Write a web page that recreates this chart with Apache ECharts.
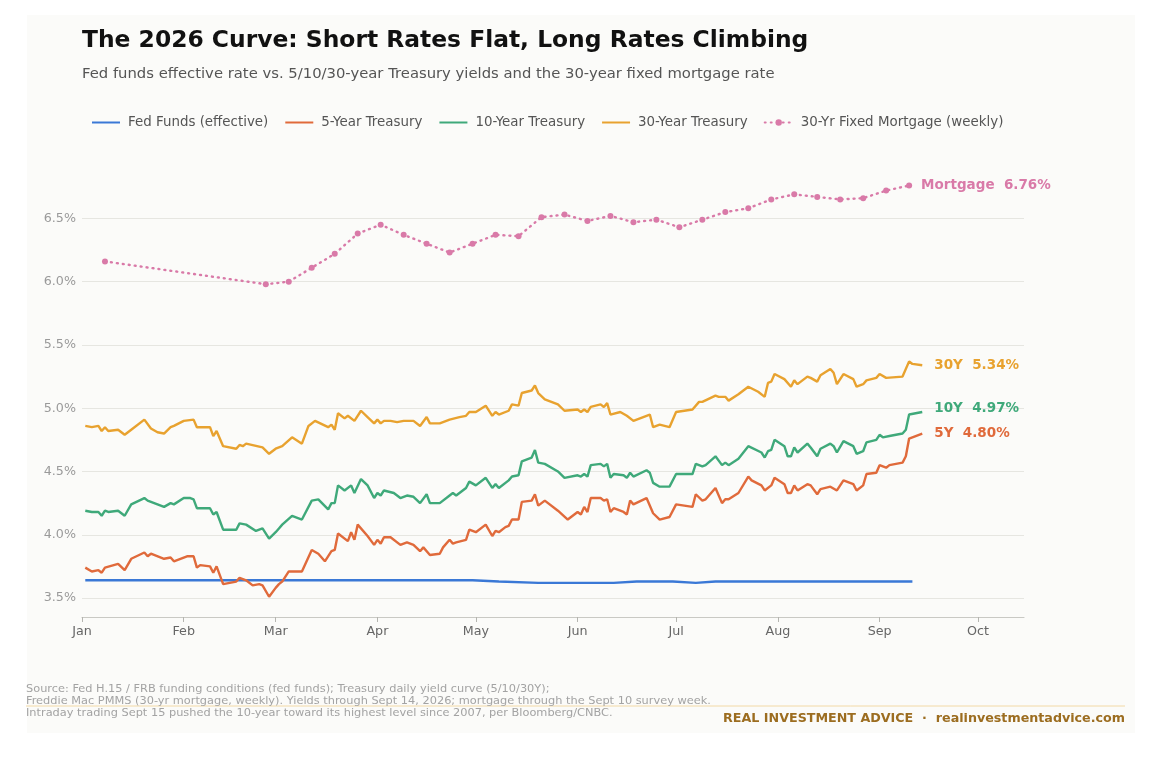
<!DOCTYPE html>
<html lang="en">
<head>
<meta charset="UTF-8">
<title>The 2026 Curve</title>
<script src="https://cdn.jsdelivr.net/npm/echarts@6/dist/echarts.min.js"></script>
<style>
  html, body { margin: 0; padding: 0; background: #ffffff; }
  #card { position: absolute; left: 27px; top: 15px; width: 1108px; height: 718px; background: #fbfbf9; }
  #chart { position: absolute; left: 0; top: 0; width: 1176px; height: 760px; }
</style>
</head>
<body>
<div id="card"></div>
<div id="chart"></div>
<script>
// ---- data (dates are MM-DD in 2026) ----
const YEAR = 2026;

const fedFunds = [
  ['01-02', 3.64], ['04-30', 3.64], ['05-08', 3.63], ['05-20', 3.62], ['06-12', 3.62],
  ['06-19', 3.63], ['06-30', 3.63], ['07-07', 3.62], ['07-13', 3.63], ['09-11', 3.63]
];

const t5 = [
  ['01-02',3.74],['01-04',3.71],['01-06',3.72],['01-07',3.70],['01-08',3.74],['01-12',3.77],['01-14',3.72],['01-16',3.81],['01-20',3.86],['01-21',3.83],['01-22',3.85],['01-26',3.81],['01-28',3.82],['01-29',3.79],
  ['02-02',3.83],['02-04',3.83],['02-05',3.74],['02-06',3.76],['02-09',3.75],['02-10',3.70],['02-11',3.75],['02-13',3.61],['02-17',3.63],['02-18',3.66],['02-20',3.64],['02-22',3.60],['02-24',3.61],['02-25',3.60],['02-27',3.51],
  ['03-01',3.58],['03-02',3.61],['03-03',3.63],['03-05',3.71],['03-09',3.71],['03-12',3.88],['03-14',3.85],['03-16',3.79],['03-18',3.87],['03-19',3.88],['03-20',4.01],['03-23',3.95],['03-24',4.02],['03-25',3.96],['03-26',4.08],['03-29',3.99],['03-31',3.92],
  ['04-01',3.96],['04-02',3.93],['04-03',3.98],['04-05',3.98],['04-08',3.92],['04-10',3.94],['04-12',3.92],['04-14',3.87],['04-15',3.90],['04-17',3.84],['04-20',3.85],['04-21',3.90],['04-23',3.96],['04-24',3.93],['04-25',3.94],['04-28',3.96],['04-29',4.04],
  ['05-01',4.02],['05-04',4.08],['05-06',3.99],['05-07',4.03],['05-08',4.02],['05-10',4.06],['05-11',4.07],['05-12',4.12],['05-14',4.12],['05-15',4.26],['05-18',4.27],['05-19',4.32],['05-20',4.23],['05-22',4.27],['05-26',4.19],['05-29',4.12],
  ['06-01',4.18],['06-02',4.16],['06-03',4.22],['06-04',4.18],['06-05',4.29],['06-08',4.29],['06-09',4.27],['06-10',4.28],['06-11',4.18],['06-12',4.21],['06-15',4.18],['06-16',4.16],['06-17',4.27],['06-18',4.24],['06-22',4.29],['06-24',4.17],['06-26',4.12],['06-29',4.14],
  ['07-01',4.24],['07-06',4.22],['07-07',4.32],['07-09',4.27],['07-10',4.28],['07-13',4.37],['07-15',4.25],['07-16',4.28],['07-17',4.28],['07-20',4.33],['07-23',4.46],['07-24',4.43],['07-27',4.39],['07-28',4.35],['07-30',4.39],['07-31',4.45],
  ['08-03',4.40],['08-04',4.33],['08-05',4.33],['08-06',4.39],['08-07',4.35],['08-10',4.40],['08-11',4.39],['08-13',4.32],['08-14',4.36],['08-17',4.38],['08-19',4.35],['08-21',4.43],['08-24',4.40],['08-25',4.35],['08-27',4.39],['08-28',4.48],['08-31',4.49],
  ['09-01',4.55],['09-03',4.53],['09-04',4.55],['09-08',4.57],['09-09',4.62],['09-10',4.76],['09-12',4.78],['09-14',4.80]
];

const t10 = [
  ['01-02',4.19],['01-04',4.18],['01-06',4.18],['01-07',4.15],['01-08',4.19],['01-09',4.18],['01-12',4.19],['01-14',4.15],['01-16',4.24],['01-20',4.29],['01-21',4.27],['01-23',4.25],['01-26',4.22],['01-28',4.25],['01-29',4.24],
  ['02-01',4.29],['02-03',4.29],['02-04',4.28],['02-05',4.21],['02-09',4.21],['02-10',4.16],['02-11',4.18],['02-13',4.04],['02-17',4.04],['02-18',4.09],['02-20',4.08],['02-23',4.03],['02-25',4.05],['02-27',3.97],
  ['03-01',4.02],['03-02',4.05],['03-03',4.08],['03-06',4.15],['03-09',4.12],['03-12',4.27],['03-14',4.28],['03-17',4.20],['03-18',4.25],['03-19',4.25],['03-20',4.39],['03-22',4.35],['03-24',4.39],['03-25',4.33],['03-27',4.44],['03-29',4.39],['03-31',4.29],
  ['04-01',4.33],['04-02',4.31],['04-03',4.35],['04-06',4.33],['04-08',4.29],['04-10',4.31],['04-12',4.30],['04-14',4.25],['04-16',4.32],['04-17',4.25],['04-20',4.25],['04-23',4.31],['04-24',4.33],['04-25',4.31],['04-28',4.37],['04-29',4.42],
  ['05-01',4.39],['05-04',4.45],['05-06',4.37],['05-07',4.40],['05-08',4.37],['05-11',4.43],['05-12',4.46],['05-14',4.47],['05-15',4.58],['05-18',4.61],['05-19',4.67],['05-20',4.57],['05-22',4.56],['05-26',4.50],['05-28',4.45],
  ['06-01',4.47],['06-02',4.46],['06-03',4.48],['06-04',4.46],['06-05',4.55],['06-08',4.56],['06-09',4.54],['06-10',4.56],['06-11',4.45],['06-12',4.48],['06-15',4.47],['06-16',4.45],['06-17',4.49],['06-18',4.46],['06-22',4.51],['06-23',4.49],['06-24',4.41],['06-26',4.38],['06-29',4.38],
  ['07-01',4.48],['07-06',4.48],['07-07',4.56],['07-09',4.54],['07-10',4.55],['07-13',4.62],['07-15',4.55],['07-16',4.57],['07-17',4.55],['07-20',4.60],['07-23',4.70],['07-27',4.65],['07-28',4.61],['07-29',4.66],['07-30',4.67],['07-31',4.75],
  ['08-03',4.70],['08-04',4.62],['08-05',4.62],['08-06',4.69],['08-07',4.65],['08-10',4.72],['08-11',4.69],['08-13',4.62],['08-14',4.68],['08-17',4.72],['08-18',4.70],['08-19',4.65],['08-21',4.74],['08-24',4.70],['08-25',4.64],['08-27',4.66],['08-28',4.73],['08-31',4.75],
  ['09-01',4.79],['09-02',4.77],['09-04',4.78],['09-08',4.80],['09-09',4.83],['09-10',4.95],['09-12',4.96],['09-14',4.97]
];

const t30 = [
  ['01-02',4.86],['01-04',4.85],['01-06',4.86],['01-07',4.82],['01-08',4.85],['01-09',4.82],['01-12',4.83],['01-14',4.79],['01-16',4.83],['01-20',4.91],['01-22',4.84],['01-24',4.81],['01-26',4.80],['01-28',4.85],['01-29',4.86],
  ['02-01',4.90],['02-04',4.91],['02-05',4.85],['02-09',4.85],['02-10',4.78],['02-11',4.82],['02-13',4.70],['02-17',4.68],['02-18',4.71],['02-19',4.70],['02-20',4.72],['02-25',4.69],['02-27',4.64],
  ['03-01',4.68],['03-03',4.70],['03-06',4.77],['03-09',4.72],['03-11',4.86],['03-13',4.90],['03-17',4.85],['03-18',4.87],['03-19',4.83],['03-20',4.96],['03-22',4.92],['03-23',4.94],['03-25',4.90],['03-27',4.98],['03-29',4.93],['03-31',4.88],
  ['04-01',4.91],['04-02',4.88],['04-03',4.90],['04-05',4.90],['04-07',4.89],['04-09',4.90],['04-12',4.90],['04-14',4.86],['04-16',4.93],['04-17',4.88],['04-20',4.88],['04-23',4.91],['04-26',4.93],['04-28',4.94],['04-29',4.97],
  ['05-01',4.97],['05-04',5.02],['05-06',4.94],['05-07',4.97],['05-08',4.95],['05-11',4.98],['05-12',5.03],['05-14',5.02],['05-15',5.12],['05-18',5.14],['05-19',5.18],['05-20',5.12],['05-22',5.07],['05-26',5.03],['05-28',4.98],
  ['06-01',4.99],['06-02',4.97],['06-03',4.99],['06-04',4.97],['06-05',5.01],['06-08',5.03],['06-09',5.01],['06-10',5.04],['06-11',4.95],['06-14',4.97],['06-16',4.94],['06-18',4.90],['06-21',4.93],['06-23',4.95],['06-24',4.85],['06-26',4.87],['06-29',4.85],
  ['07-01',4.97],['07-06',4.99],['07-08',5.05],['07-09',5.05],['07-13',5.10],['07-14',5.09],['07-16',5.09],['07-17',5.06],['07-20',5.11],['07-23',5.17],['07-26',5.13],['07-28',5.09],['07-29',5.20],['07-30',5.21],['07-31',5.27],
  ['08-03',5.23],['08-05',5.17],['08-06',5.22],['08-07',5.19],['08-10',5.25],['08-11',5.24],['08-13',5.21],['08-14',5.26],['08-17',5.31],['08-18',5.28],['08-19',5.19],['08-21',5.27],['08-24',5.23],['08-25',5.17],['08-27',5.19],['08-28',5.22],['08-31',5.24],
  ['09-01',5.27],['09-03',5.24],['09-08',5.25],['09-10',5.37],['09-11',5.35],['09-14',5.34]
];

const mortgage = [
  ['01-08',6.16],['02-26',5.98],['03-05',6.00],['03-12',6.11],['03-19',6.22],['03-26',6.38],['04-02',6.45],['04-09',6.37],
  ['04-16',6.30],['04-23',6.23],['04-30',6.30],['05-07',6.37],['05-14',6.36],['05-21',6.51],['05-28',6.53],['06-04',6.48],
  ['06-11',6.52],['06-18',6.47],['06-25',6.49],['07-02',6.43],['07-09',6.49],['07-16',6.55],['07-23',6.58],['07-30',6.65],
  ['08-06',6.69],['08-13',6.67],['08-20',6.65],['08-27',6.66],['09-03',6.72],['09-10',6.76]
];

const monthTicks = ['01-01','02-01','03-01','04-01','05-01','06-01','07-01','08-01','09-01','10-01'];
const monthNames = ['Jan','Feb','Mar','Apr','May','Jun','Jul','Aug','Sep','Oct','Nov','Dec'];
const yTicks = [3.5, 4.0, 4.5, 5.0, 5.5, 6.0, 6.5];

const seriesNames = ['Fed Funds (effective)', '5-Year Treasury', '10-Year Treasury', '30-Year Treasury', '30-Yr Fixed Mortgage (weekly)'];
const endTags = [null, '5Y', '10Y', '30Y', 'Mortgage'];
const colors = ['#3a78d6', '#e06a3b', '#3fa97a', '#e8a22f', '#d97aa8'];

// ---- helpers ----
const FONT = '"DejaVu Sans", sans-serif';
const ts = d => echarts.number.parseDate(YEAR + '-' + d).getTime();
const toSeries = arr => arr.map(([d, v]) => [ts(d), v]);

const chart = echarts.init(document.getElementById('chart'));

function lineSeries(i, data) {
  const s = {
    name: seriesNames[i],
    type: 'line',
    data: toSeries(data),
    showSymbol: false,
    symbol: 'none',
    lineStyle: { width: 2.4, color: colors[i] },
    itemStyle: { color: colors[i] },
    animation: false,
    z: 3 + i
  };
  if (endTags[i]) {
    s.endLabel = {
      show: true,
      distance: 12,
      formatter: p => endTags[i] + '  ' + p.value[1].toFixed(2) + '%',
      color: colors[i],
      fontFamily: FONT,
      fontWeight: 'bold',
      fontSize: 13.5
    };
  }
  return s;
}

const mortgageSeries = lineSeries(4, mortgage);
mortgageSeries.showSymbol = true;
mortgageSeries.symbol = 'circle';
mortgageSeries.symbolSize = 6;
mortgageSeries.lineStyle = { width: 2.4, color: colors[4], type: [1, 5], cap: 'round' };

// 10Y tag nudged up a little so it clears the 5Y tag
const t10Series = lineSeries(2, t10);
t10Series.endLabel.offset = [0, -4];

chart.setOption({
  textStyle: { fontFamily: FONT },
  title: [
    {
      text: 'The 2026 Curve: Short Rates Flat, Long Rates Climbing',
      left: 82, top: 29, padding: 0,
      textStyle: { fontFamily: FONT, fontSize: 23.4, fontWeight: 'bold', color: '#111111' }
    },
    {
      text: 'Fed funds effective rate vs. 5/10/30-year Treasury yields and the 30-year fixed mortgage rate',
      left: 82, top: 67, padding: 0,
      textStyle: { fontFamily: FONT, fontSize: 14.8, fontWeight: 'normal', color: '#555555' }
    },
    {
      text: 'Source: Fed H.15 / FRB funding conditions (fed funds); Treasury daily yield curve (5/10/30Y);\n' +
            'Freddie Mac PMMS (30-yr mortgage, weekly). Yields through Sept 14, 2026; mortgage through the Sept 10 survey week.\n' +
            'Intraday trading Sept 15 pushed the 10-year toward its highest level since 2007, per Bloomberg/CNBC.',
      left: 26, top: 683, padding: 0,
      textStyle: { fontFamily: FONT, fontSize: 11.35, fontWeight: 'normal', color: '#a3a3a3', lineHeight: 12 }
    },
    {
      text: 'REAL INVESTMENT ADVICE  ·  realinvestmentadvice.com',
      right: 51, top: 712, padding: 0,
      textStyle: { fontFamily: FONT, fontSize: 12.7, fontWeight: 'bold', color: '#9c6d20' }
    }
  ],
  graphic: [
    { type: 'line', shape: { x1: 26, y1: 706, x2: 1125, y2: 706 }, style: { stroke: '#f2d9a6', lineWidth: 1 }, z: -1 }
  ],
  legend: {
    left: 86, top: 111,
    itemWidth: 28, itemHeight: 8, itemGap: 16,
    textStyle: { fontFamily: FONT, fontSize: 13.4, color: '#555555', padding: [0, 0, 0, 3] },
    data: seriesNames.map((n, i) => i < 4 ? { name: n, itemStyle: { opacity: 0 } } : { name: n })
  },
  grid: { left: 82, right: 152, top: 164, bottom: 143, containLabel: false },
  xAxis: {
    type: 'value',
    min: ts('01-01'),
    max: ts('10-15'),
    axisLine: { show: true, lineStyle: { color: '#c9c9c4', width: 1.2 } },
    axisTick: { show: true, length: 5, customValues: monthTicks.map(ts), lineStyle: { color: '#b5b5b0', width: 1 } },
    axisLabel: {
      customValues: monthTicks.map(ts),
      formatter: v => monthNames[new Date(v).getMonth()],
      color: '#666666', fontFamily: FONT, fontSize: 12.7, margin: 8
    },
    splitLine: { show: false }
  },
  yAxis: {
    type: 'value',
    min: 3.35,
    max: 6.93,
    axisLine: { show: false },
    axisTick: { show: false, customValues: yTicks },
    axisLabel: {
      customValues: yTicks,
      formatter: v => v.toFixed(1) + '%',
      color: '#9a9a9a', fontFamily: FONT, fontSize: 12.7, margin: 6
    },
    splitLine: { show: true, lineStyle: { color: '#e6e6e1', width: 1 } }
  },
  series: [
    lineSeries(0, fedFunds),
    lineSeries(1, t5),
    t10Series,
    lineSeries(3, t30),
    mortgageSeries
  ]
});
</script>
</body>
</html>
